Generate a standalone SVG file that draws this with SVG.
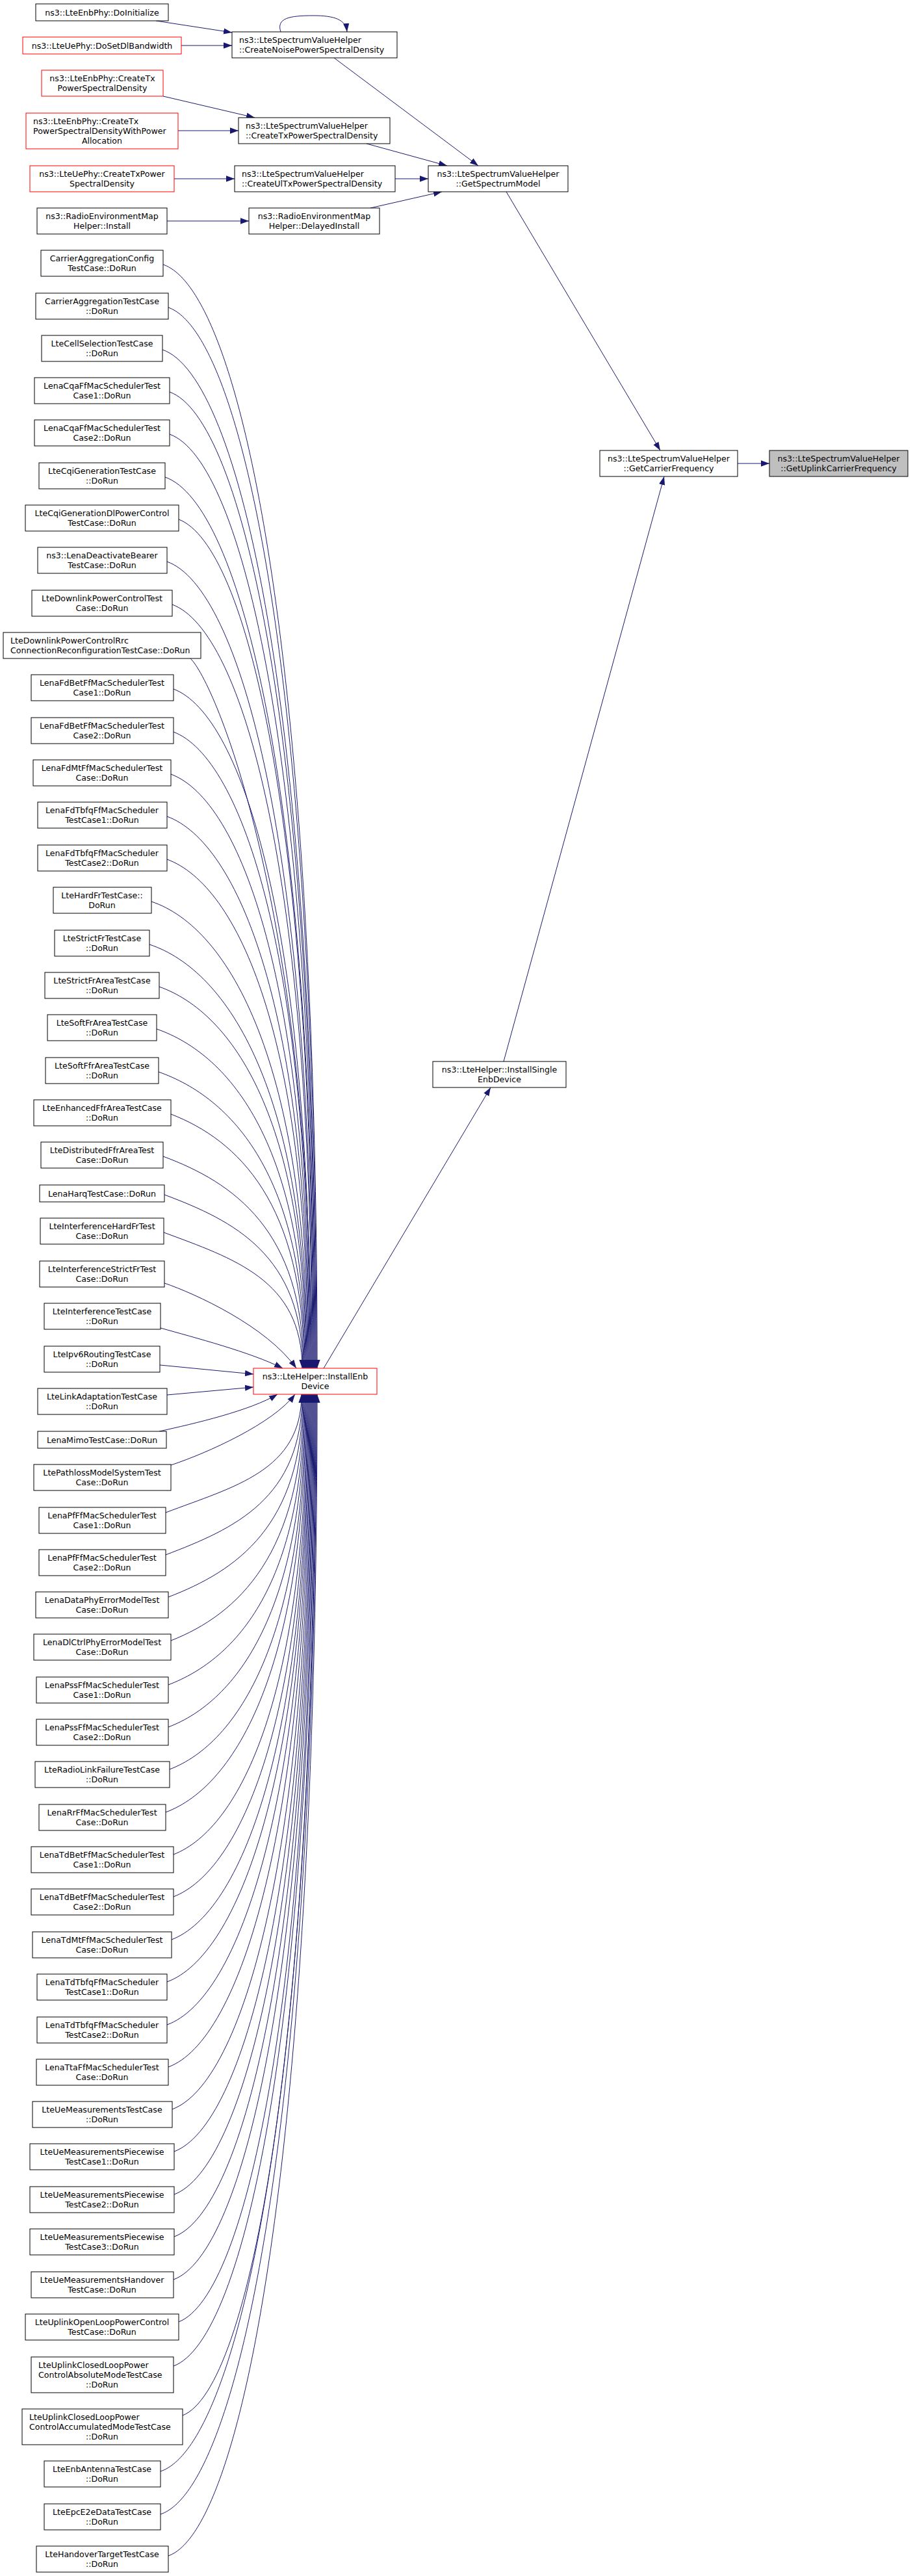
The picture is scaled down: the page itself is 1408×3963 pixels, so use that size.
<svg xmlns="http://www.w3.org/2000/svg" width="1408" height="3963" viewBox="0 0 1408 3963">
<style>
.n rect{fill:#fff;stroke:#000;stroke-width:1}
.n.r rect{stroke:#ff0000}
.n.g rect{fill:#bfbfbf}
text{font-family:"DejaVu Sans","Liberation Sans",sans-serif;font-size:12.6px;fill:#000}
.c{text-anchor:middle}
#edges path{fill:none;stroke:#191970;stroke-width:1;marker-end:url(#a)}
</style>
<defs>
<marker id="a" markerUnits="userSpaceOnUse" markerWidth="13" markerHeight="10" viewBox="0 0 13 10" refX="13" refY="5" orient="auto"><path d="M0,0.35 L13,5 L0,9.65 Z" fill="#191970"/></marker>
</defs>
<rect width="1408" height="3963" fill="#fff"/>
<g id="edges">
<path d="M240,32 L357,50"/>
<path d="M279,70 L357,70"/>
<path d="M432,49 C425,28 445,24 482,24 C515,24 532,30 534,49"/>
<path d="M251,148 L392,181"/>
<path d="M274,201 L367,201"/>
<path d="M268,275 L361,275"/>
<path d="M257,340 L383,340"/>
<path d="M514,89 L736,255"/>
<path d="M564,221 L688,255"/>
<path d="M608,275 L659,275"/>
<path d="M570,320 L680,295"/>
<path d="M779,295 L1016,693"/>
<path d="M1135,713 L1184,713"/>
<path d="M775,1633 L1022,733"/>
<path d="M498,2105 L755,1673"/>
<path d="M251,407 C370,447 488,1001 488,2105"/>
<path d="M259,473 C373,513 487,1044 487,2105"/>
<path d="M250,538 C368,578 486,1086 486,2105"/>
<path d="M261,603 C373,643 485,1129 485,2105"/>
<path d="M261,668 C373,708 484,1171 484,2105"/>
<path d="M254,734 C369,774 483,1214 483,2105"/>
<path d="M275,799 C379,839 482,1256 482,2105"/>
<path d="M257,864 C369,904 481,1298 481,2105"/>
<path d="M265,930 C373,970 480,1341 480,2105"/>
<path d="M293,1013 C330,1048 479,1395 479,2105"/>
<path d="M267,1060 C373,1100 478,1426 478,2105"/>
<path d="M267,1126 C372,1166 477,1469 477,2105"/>
<path d="M263,1191 C370,1231 476,1511 476,2105"/>
<path d="M257,1256 C366,1296 475,1553 475,2105"/>
<path d="M257,1322 C366,1362 474,1596 474,2105"/>
<path d="M233,1387 C353,1427 473,1638 473,2105"/>
<path d="M230,1453 C351,1493 472,1681 472,2105"/>
<path d="M245,1518 C358,1558 471,1723 471,2105"/>
<path d="M241,1583 C356,1623 470,1766 470,2105"/>
<path d="M244,1649 C357,1689 469,1809 469,2105"/>
<path d="M263,1714 C366,1754 468,1851 468,2105"/>
<path d="M251,1779 C359,1819 467,1893 467,2105"/>
<path d="M253,1838 C360,1878 466,1931 466,2105"/>
<path d="M252,1896 C359,1936 465,1969 465,2105"/>
<path d="M253,1974 C300,1990 410,2040 456,2105"/>
<path d="M247,2043 C300,2058 385,2080 435,2105"/>
<path d="M246,2100 L390,2114"/>
<path d="M257,2146 L390,2134"/>
<path d="M245,2202 C300,2190 385,2170 427,2145"/>
<path d="M263,2254 C320,2235 420,2190 454,2145"/>
<path d="M255,2327 C360,2287 464,2263 464,2145"/>
<path d="M255,2392 C360,2352 465,2306 465,2145"/>
<path d="M259,2457 C363,2417 466,2348 466,2145"/>
<path d="M263,2524 C365,2484 467,2391 467,2145"/>
<path d="M259,2592 C364,2552 468,2436 468,2145"/>
<path d="M259,2657 C364,2617 469,2478 469,2145"/>
<path d="M261,2722 C366,2682 470,2520 470,2145"/>
<path d="M255,2788 C363,2748 471,2563 471,2145"/>
<path d="M267,2853 C370,2813 472,2605 472,2145"/>
<path d="M267,2918 C370,2878 473,2647 473,2145"/>
<path d="M264,2984 C369,2944 474,2690 474,2145"/>
<path d="M257,3049 C366,3009 475,2733 475,2145"/>
<path d="M257,3115 C367,3075 476,2775 476,2145"/>
<path d="M259,3180 C368,3140 477,2818 477,2145"/>
<path d="M265,3245 C372,3205 478,2860 478,2145"/>
<path d="M268,3310 C374,3270 479,2902 479,2145"/>
<path d="M268,3376 C374,3336 480,2945 480,2145"/>
<path d="M268,3441 C375,3401 481,2987 481,2145"/>
<path d="M267,3507 C375,3467 482,3030 482,2145"/>
<path d="M275,3572 C379,3532 483,3073 483,2145"/>
<path d="M267,3640 C376,3600 484,3117 484,2145"/>
<path d="M281,3716 C383,3676 485,3166 485,2145"/>
<path d="M247,3802 C367,3762 486,3222 486,2145"/>
<path d="M247,3868 C367,3828 487,3265 487,2145"/>
<path d="M259,3932 C374,3892 488,3307 488,2145"/>
</g>
<g id="n_root" class="n g"><rect x="1184" y="693" width="213" height="40"/><text class="c" x="1290.5" y="709.5">ns3::LteSpectrumValueHelper<tspan x="1290.5" dy="15">::GetUplinkCarrierFrequency</tspan></text></g>
<g id="n_gcf" class="n"><rect x="923" y="693" width="212" height="40"/><text class="c" x="1029" y="709.5">ns3::LteSpectrumValueHelper<tspan x="1029" dy="15">::GetCarrierFrequency</tspan></text></g>
<g id="n_gsm" class="n"><rect x="659" y="255" width="215" height="40"/><text class="c" x="766.5" y="271.5">ns3::LteSpectrumValueHelper<tspan x="766.5" dy="15">::GetSpectrumModel</tspan></text></g>
<g id="n_single" class="n"><rect x="666" y="1633" width="205" height="40"/><text class="c" x="768.5" y="1649.5">ns3::LteHelper::InstallSingle<tspan x="768.5" dy="15">EnbDevice</tspan></text></g>
<g id="n_noise" class="n"><rect x="357" y="49" width="254" height="40"/><text x="368" y="65.5">ns3::LteSpectrumValueHelper<tspan x="368" dy="15">::CreateNoisePowerSpectralDensity</tspan></text></g>
<g id="n_svhtx" class="n"><rect x="367" y="181" width="233" height="40"/><text x="378" y="197.5">ns3::LteSpectrumValueHelper<tspan x="378" dy="15">::CreateTxPowerSpectralDensity</tspan></text></g>
<g id="n_ultx" class="n"><rect x="361" y="255" width="247" height="40"/><text x="372" y="271.5">ns3::LteSpectrumValueHelper<tspan x="372" dy="15">::CreateUlTxPowerSpectralDensity</tspan></text></g>
<g id="n_delayed" class="n"><rect x="383" y="320" width="201" height="40"/><text class="c" x="483.5" y="336.5">ns3::RadioEnvironmentMap<tspan x="483.5" dy="15">Helper::DelayedInstall</tspan></text></g>
<g id="n_installenb" class="n r"><rect x="390" y="2105" width="190" height="40"/><text class="c" x="485" y="2121.5">ns3::LteHelper::InstallEnb<tspan x="485" dy="15">Device</tspan></text></g>
<g id="n_doinit" class="n"><rect x="55" y="6" width="204" height="26"/><text class="c" x="157" y="23.5">ns3::LteEnbPhy::DoInitialize</text></g>
<g id="n_dosetdl" class="n r"><rect x="35" y="57" width="244" height="26"/><text class="c" x="157" y="74.5">ns3::LteUePhy::DoSetDlBandwidth</text></g>
<g id="n_enbtx" class="n r"><rect x="64" y="108" width="187" height="40"/><text class="c" x="157.5" y="124.5">ns3::LteEnbPhy::CreateTx<tspan x="157.5" dy="15">PowerSpectralDensity</tspan></text></g>
<g id="n_enbtxpa" class="n r"><rect x="40" y="174" width="234" height="55"/><text x="51" y="190.5">ns3::LteEnbPhy::CreateTx<tspan x="51" dy="15">PowerSpectralDensityWithPower</tspan><tspan class="c" x="157" dy="15">Allocation</tspan></text></g>
<g id="n_uetx" class="n r"><rect x="46" y="255" width="222" height="40"/><text class="c" x="157" y="271.5">ns3::LteUePhy::CreateTxPower<tspan x="157" dy="15">SpectralDensity</tspan></text></g>
<g id="n_reminstall" class="n"><rect x="57" y="320" width="200" height="40"/><text class="c" x="157" y="336.5">ns3::RadioEnvironmentMap<tspan x="157" dy="15">Helper::Install</tspan></text></g>
<g id="n0" class="n"><rect x="63" y="385" width="188" height="40"/><text class="c" x="157" y="401.5">CarrierAggregationConfig<tspan x="157" dy="15">TestCase::DoRun</tspan></text></g>
<g id="n1" class="n"><rect x="55" y="451" width="204" height="40"/><text class="c" x="157" y="467.5">CarrierAggregationTestCase<tspan x="157" dy="15">::DoRun</tspan></text></g>
<g id="n2" class="n"><rect x="64" y="516" width="186" height="40"/><text class="c" x="157" y="532.5">LteCellSelectionTestCase<tspan x="157" dy="15">::DoRun</tspan></text></g>
<g id="n3" class="n"><rect x="53" y="581" width="208" height="40"/><text class="c" x="157" y="597.5">LenaCqaFfMacSchedulerTest<tspan x="157" dy="15">Case1::DoRun</tspan></text></g>
<g id="n4" class="n"><rect x="53" y="646" width="208" height="40"/><text class="c" x="157" y="662.5">LenaCqaFfMacSchedulerTest<tspan x="157" dy="15">Case2::DoRun</tspan></text></g>
<g id="n5" class="n"><rect x="60" y="712" width="194" height="40"/><text class="c" x="157" y="728.5">LteCqiGenerationTestCase<tspan x="157" dy="15">::DoRun</tspan></text></g>
<g id="n6" class="n"><rect x="39" y="777" width="236" height="40"/><text class="c" x="157" y="793.5">LteCqiGenerationDlPowerControl<tspan x="157" dy="15">TestCase::DoRun</tspan></text></g>
<g id="n7" class="n"><rect x="58" y="842" width="199" height="40"/><text class="c" x="157" y="858.5">ns3::LenaDeactivateBearer<tspan x="157" dy="15">TestCase::DoRun</tspan></text></g>
<g id="n8" class="n"><rect x="49" y="908" width="216" height="40"/><text class="c" x="157" y="924.5">LteDownlinkPowerControlTest<tspan x="157" dy="15">Case::DoRun</tspan></text></g>
<g id="n9" class="n"><rect x="5" y="973" width="304" height="40"/><text x="16" y="989.5">LteDownlinkPowerControlRrc<tspan x="16" dy="15">ConnectionReconfigurationTestCase::DoRun</tspan></text></g>
<g id="n10" class="n"><rect x="48" y="1038" width="219" height="40"/><text class="c" x="157" y="1054.5">LenaFdBetFfMacSchedulerTest<tspan x="157" dy="15">Case1::DoRun</tspan></text></g>
<g id="n11" class="n"><rect x="48" y="1104" width="219" height="40"/><text class="c" x="157" y="1120.5">LenaFdBetFfMacSchedulerTest<tspan x="157" dy="15">Case2::DoRun</tspan></text></g>
<g id="n12" class="n"><rect x="51" y="1169" width="212" height="40"/><text class="c" x="157" y="1185.5">LenaFdMtFfMacSchedulerTest<tspan x="157" dy="15">Case::DoRun</tspan></text></g>
<g id="n13" class="n"><rect x="58" y="1234" width="199" height="40"/><text class="c" x="157" y="1250.5">LenaFdTbfqFfMacScheduler<tspan x="157" dy="15">TestCase1::DoRun</tspan></text></g>
<g id="n14" class="n"><rect x="58" y="1300" width="199" height="40"/><text class="c" x="157" y="1316.5">LenaFdTbfqFfMacScheduler<tspan x="157" dy="15">TestCase2::DoRun</tspan></text></g>
<g id="n15" class="n"><rect x="82" y="1365" width="151" height="40"/><text class="c" x="157" y="1381.5">LteHardFrTestCase::<tspan x="157" dy="15">DoRun</tspan></text></g>
<g id="n16" class="n"><rect x="84" y="1431" width="146" height="40"/><text class="c" x="157" y="1447.5">LteStrictFrTestCase<tspan x="157" dy="15">::DoRun</tspan></text></g>
<g id="n17" class="n"><rect x="69" y="1496" width="176" height="40"/><text class="c" x="157" y="1512.5">LteStrictFrAreaTestCase<tspan x="157" dy="15">::DoRun</tspan></text></g>
<g id="n18" class="n"><rect x="73" y="1561" width="168" height="40"/><text class="c" x="157" y="1577.5">LteSoftFrAreaTestCase<tspan x="157" dy="15">::DoRun</tspan></text></g>
<g id="n19" class="n"><rect x="70" y="1627" width="174" height="40"/><text class="c" x="157" y="1643.5">LteSoftFfrAreaTestCase<tspan x="157" dy="15">::DoRun</tspan></text></g>
<g id="n20" class="n"><rect x="52" y="1692" width="211" height="40"/><text class="c" x="157" y="1708.5">LteEnhancedFfrAreaTestCase<tspan x="157" dy="15">::DoRun</tspan></text></g>
<g id="n21" class="n"><rect x="63" y="1757" width="188" height="40"/><text class="c" x="157" y="1773.5">LteDistributedFfrAreaTest<tspan x="157" dy="15">Case::DoRun</tspan></text></g>
<g id="n22" class="n"><rect x="61" y="1823" width="192" height="26"/><text class="c" x="157" y="1840.5">LenaHarqTestCase::DoRun</text></g>
<g id="n23" class="n"><rect x="62" y="1874" width="190" height="40"/><text class="c" x="157" y="1890.5">LteInterferenceHardFrTest<tspan x="157" dy="15">Case::DoRun</tspan></text></g>
<g id="n24" class="n"><rect x="61" y="1940" width="192" height="40"/><text class="c" x="157" y="1956.5">LteInterferenceStrictFrTest<tspan x="157" dy="15">Case::DoRun</tspan></text></g>
<g id="n25" class="n"><rect x="68" y="2005" width="179" height="40"/><text class="c" x="157" y="2021.5">LteInterferenceTestCase<tspan x="157" dy="15">::DoRun</tspan></text></g>
<g id="n26" class="n"><rect x="68" y="2071" width="178" height="40"/><text class="c" x="157" y="2087.5">LteIpv6RoutingTestCase<tspan x="157" dy="15">::DoRun</tspan></text></g>
<g id="n27" class="n"><rect x="58" y="2136" width="199" height="40"/><text class="c" x="157" y="2152.5">LteLinkAdaptationTestCase<tspan x="157" dy="15">::DoRun</tspan></text></g>
<g id="n28" class="n"><rect x="58" y="2202" width="198" height="26"/><text class="c" x="157" y="2219.5">LenaMimoTestCase::DoRun</text></g>
<g id="n29" class="n"><rect x="52" y="2253" width="211" height="40"/><text class="c" x="157" y="2269.5">LtePathlossModelSystemTest<tspan x="157" dy="15">Case::DoRun</tspan></text></g>
<g id="n30" class="n"><rect x="60" y="2319" width="195" height="40"/><text class="c" x="157" y="2335.5">LenaPfFfMacSchedulerTest<tspan x="157" dy="15">Case1::DoRun</tspan></text></g>
<g id="n31" class="n"><rect x="60" y="2384" width="195" height="40"/><text class="c" x="157" y="2400.5">LenaPfFfMacSchedulerTest<tspan x="157" dy="15">Case2::DoRun</tspan></text></g>
<g id="n32" class="n"><rect x="55" y="2449" width="204" height="40"/><text class="c" x="157" y="2465.5">LenaDataPhyErrorModelTest<tspan x="157" dy="15">Case::DoRun</tspan></text></g>
<g id="n33" class="n"><rect x="52" y="2514" width="211" height="40"/><text class="c" x="157" y="2530.5">LenaDlCtrlPhyErrorModelTest<tspan x="157" dy="15">Case::DoRun</tspan></text></g>
<g id="n34" class="n"><rect x="56" y="2580" width="203" height="40"/><text class="c" x="157" y="2596.5">LenaPssFfMacSchedulerTest<tspan x="157" dy="15">Case1::DoRun</tspan></text></g>
<g id="n35" class="n"><rect x="56" y="2645" width="203" height="40"/><text class="c" x="157" y="2661.5">LenaPssFfMacSchedulerTest<tspan x="157" dy="15">Case2::DoRun</tspan></text></g>
<g id="n36" class="n"><rect x="54" y="2710" width="207" height="40"/><text class="c" x="157" y="2726.5">LteRadioLinkFailureTestCase<tspan x="157" dy="15">::DoRun</tspan></text></g>
<g id="n37" class="n"><rect x="60" y="2776" width="195" height="40"/><text class="c" x="157" y="2792.5">LenaRrFfMacSchedulerTest<tspan x="157" dy="15">Case::DoRun</tspan></text></g>
<g id="n38" class="n"><rect x="48" y="2841" width="219" height="40"/><text class="c" x="157" y="2857.5">LenaTdBetFfMacSchedulerTest<tspan x="157" dy="15">Case1::DoRun</tspan></text></g>
<g id="n39" class="n"><rect x="48" y="2906" width="219" height="40"/><text class="c" x="157" y="2922.5">LenaTdBetFfMacSchedulerTest<tspan x="157" dy="15">Case2::DoRun</tspan></text></g>
<g id="n40" class="n"><rect x="50" y="2972" width="214" height="40"/><text class="c" x="157" y="2988.5">LenaTdMtFfMacSchedulerTest<tspan x="157" dy="15">Case::DoRun</tspan></text></g>
<g id="n41" class="n"><rect x="57" y="3037" width="200" height="40"/><text class="c" x="157" y="3053.5">LenaTdTbfqFfMacScheduler<tspan x="157" dy="15">TestCase1::DoRun</tspan></text></g>
<g id="n42" class="n"><rect x="57" y="3103" width="200" height="40"/><text class="c" x="157" y="3119.5">LenaTdTbfqFfMacScheduler<tspan x="157" dy="15">TestCase2::DoRun</tspan></text></g>
<g id="n43" class="n"><rect x="56" y="3168" width="203" height="40"/><text class="c" x="157" y="3184.5">LenaTtaFfMacSchedulerTest<tspan x="157" dy="15">Case::DoRun</tspan></text></g>
<g id="n44" class="n"><rect x="50" y="3233" width="215" height="40"/><text class="c" x="157" y="3249.5">LteUeMeasurementsTestCase<tspan x="157" dy="15">::DoRun</tspan></text></g>
<g id="n45" class="n"><rect x="46" y="3298" width="222" height="40"/><text class="c" x="157" y="3314.5">LteUeMeasurementsPiecewise<tspan x="157" dy="15">TestCase1::DoRun</tspan></text></g>
<g id="n46" class="n"><rect x="46" y="3364" width="222" height="40"/><text class="c" x="157" y="3380.5">LteUeMeasurementsPiecewise<tspan x="157" dy="15">TestCase2::DoRun</tspan></text></g>
<g id="n47" class="n"><rect x="46" y="3429" width="222" height="40"/><text class="c" x="157" y="3445.5">LteUeMeasurementsPiecewise<tspan x="157" dy="15">TestCase3::DoRun</tspan></text></g>
<g id="n48" class="n"><rect x="48" y="3495" width="219" height="40"/><text class="c" x="157" y="3511.5">LteUeMeasurementsHandover<tspan x="157" dy="15">TestCase::DoRun</tspan></text></g>
<g id="n49" class="n"><rect x="39" y="3560" width="236" height="40"/><text class="c" x="157" y="3576.5">LteUplinkOpenLoopPowerControl<tspan x="157" dy="15">TestCase::DoRun</tspan></text></g>
<g id="n50" class="n"><rect x="48" y="3626" width="219" height="55"/><text x="59" y="3642.5">LteUplinkClosedLoopPower<tspan x="59" dy="15">ControlAbsoluteModeTestCase</tspan><tspan class="c" x="157" dy="15">::DoRun</tspan></text></g>
<g id="n51" class="n"><rect x="34" y="3706" width="247" height="55"/><text x="45" y="3722.5">LteUplinkClosedLoopPower<tspan x="45" dy="15">ControlAccumulatedModeTestCase</tspan><tspan class="c" x="157" dy="15">::DoRun</tspan></text></g>
<g id="n52" class="n"><rect x="68" y="3786" width="179" height="40"/><text class="c" x="157" y="3802.5">LteEnbAntennaTestCase<tspan x="157" dy="15">::DoRun</tspan></text></g>
<g id="n53" class="n"><rect x="68" y="3852" width="179" height="40"/><text class="c" x="157" y="3868.5">LteEpcE2eDataTestCase<tspan x="157" dy="15">::DoRun</tspan></text></g>
<g id="n54" class="n"><rect x="56" y="3917" width="203" height="40"/><text class="c" x="157" y="3933.5">LteHandoverTargetTestCase<tspan x="157" dy="15">::DoRun</tspan></text></g>
</svg>
